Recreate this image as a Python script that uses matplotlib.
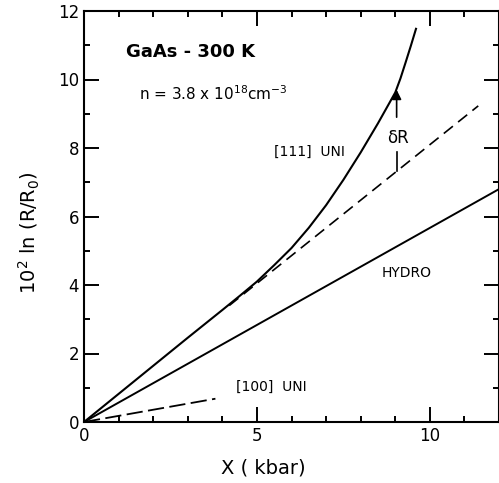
import matplotlib
matplotlib.use("Agg")
from matplotlib import pyplot as plt

# [111] uniaxial stress curve (solid)
x_111 = [0, 1, 2, 3, 4, 4.5, 5, 5.5, 6, 6.5, 7, 7.5, 8, 8.5, 9, 9.15, 9.3, 9.45, 9.6]
y_111 = [0, 0.82, 1.64, 2.46, 3.27, 3.68, 4.1, 4.58, 5.08, 5.67, 6.33,
         7.07, 7.87, 8.72, 9.62, 10.03, 10.5, 10.98, 11.48]

# linear extrapolation of the [111] curve (dashed)
x_lin = [4.2, 11.4]
y_lin = [3.4, 9.23]

# hydrostatic pressure (solid)
x_hydro = [0, 12]
y_hydro = [0, 6.8]

# [100] uniaxial stress (long dashes)
x_100 = [0, 3.8]
y_100 = [0, 0.68]

# delta R marker
dr_x = 9.04
dr_low = [7.32, 7.88]
dr_arrow = [8.9, 9.7]

fig = plt.figure(figsize=(4.99, 4.83), dpi=100)
ax = fig.add_axes([84 / 499, 1 - 422 / 483, 1 - 84 / 499, (422 - 11) / 483])

ax.plot(x_111, y_111, "-", color="black", lw=1.5)
ax.plot(x_lin, y_lin, color="black", lw=1.2, dashes=(7, 4))
ax.plot(x_hydro, y_hydro, "-", color="black", lw=1.4)
ax.plot(x_100, y_100, color="black", lw=1.3, dashes=(9, 3))

# delta R
ax.plot([dr_x, dr_x], dr_low, color="black", lw=1.2)
ax.annotate("", xy=(dr_x, dr_arrow[1]), xytext=(dr_x, dr_arrow[0]),
            arrowprops=dict(arrowstyle="-|>", color="black", lw=1.2,
                            mutation_scale=14, shrinkA=0, shrinkB=0))
ax.text(9.07, 8.3, "δR", fontsize=12, ha="center", va="center")

# annotations
ax.text(1.2, 10.8, "GaAs - 300 K", fontsize=13, fontweight="bold", va="center")
ax.text(1.6, 9.6, r"n = 3.8 x 10$^{18}$cm$^{-3}$", fontsize=11, va="center")
ax.text(5.5, 7.9, "[111]  UNI", fontsize=10, va="center")
ax.text(9.33, 4.35, "HYDRO", fontsize=10, ha="center", va="center")
ax.text(5.43, 1.02, "[100]  UNI", fontsize=10, ha="center", va="center")

ax.set_xlim(0, 12)
ax.set_ylim(0, 12)
ax.set_xticks([0, 5, 10])
ax.set_xticks(range(0, 13), minor=True)
ax.set_yticks(range(0, 13, 2))
ax.set_yticks(range(0, 13), minor=True)

ax.tick_params(which="both", direction="in", top=True, right=True, width=1.4,
               labelsize=12)
ax.tick_params(which="major", length=11)
ax.tick_params(which="minor", length=4.5)
for s in ax.spines.values():
    s.set_linewidth(1.5)

ax.set_xlabel("X ( kbar)", fontsize=14)
ax.set_ylabel(r"10$^2$ ln (R/R$_0$)", fontsize=14)
ax.xaxis.set_label_coords((263 - 84) / 415, -0.088)
ax.yaxis.set_label_coords(-0.10, 0.46)

fig.savefig("out.png", dpi=100)
